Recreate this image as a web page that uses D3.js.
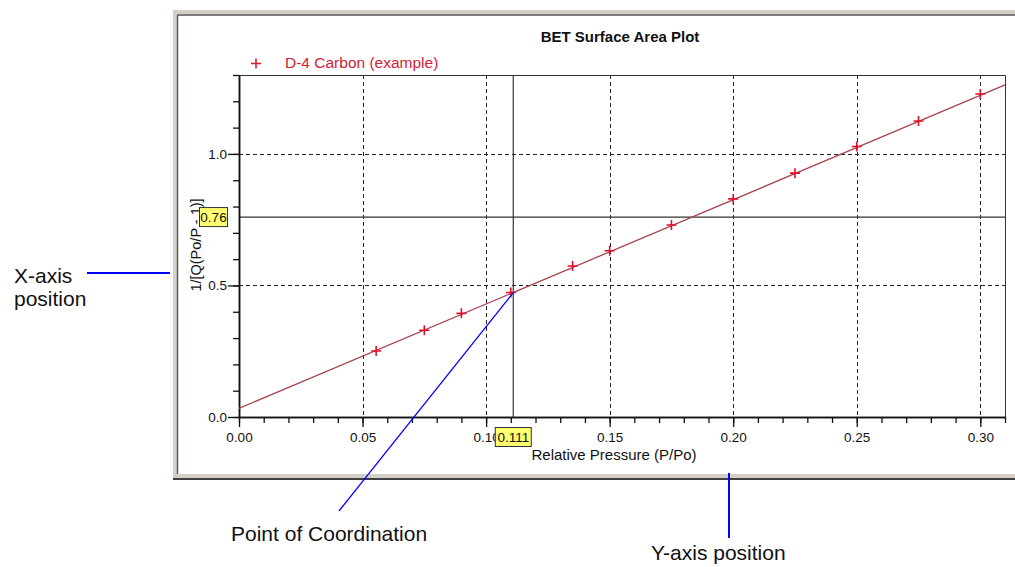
<!DOCTYPE html>
<html>
<head>
<meta charset="utf-8">
<script src="https://cdn.jsdelivr.net/npm/d3@7"></script>
<style>
  body { margin: 0; background: #fff; }
  svg { display: block; font-family: "Liberation Sans", Arial, sans-serif; }
</style>
</head>
<body>
<div id="chart"></div>
<script>
(function () {
  'use strict';

  // BET data
  var relPressure = [0.0555, 0.075, 0.090, 0.110, 0.135, 0.150, 0.175, 0.200, 0.225, 0.250, 0.275, 0.300];
  var betValues   = [0.251, 0.330, 0.394, 0.473, 0.574, 0.632, 0.730, 0.829, 0.927, 1.028, 1.125, 1.228];
  var fitIntercept = 0.033,
      fitSlope = 3.965;
  var xMajorTicks = [0, 0.05, 0.10, 0.15, 0.20, 0.25, 0.30];
  var yMajorTicks = [0, 0.5, 1.0];
  var crossX = 0.111,
      crossY = 0.76;
  var seriesName = 'D-4 Carbon (example)';

  var width = 1015, height = 567;
  var plot = {left: 239, right: 1005, top: 75, bottom: 417};

  var svg = d3.select('#chart').append('svg')
      .attr('width', width)
      .attr('height', height);

  var x = d3.scaleLinear().domain([0, 0.31]).range([plot.left, plot.right]);
  var y = d3.scaleLinear().domain([0, 1.3]).range([plot.bottom, plot.top]);

  // window-like panel frame
  svg.append('rect')
      .attr('x', 173).attr('y', 10).attr('width', 860).attr('height', 470)
      .attr('fill', '#d4d0c8');
  svg.append('rect')
      .attr('x', 178).attr('y', 16).attr('width', 860).attr('height', 458)
      .attr('fill', '#fff');
  svg.append('line')
      .attr('x1', 177.5).attr('x2', 177.5).attr('y1', 15).attr('y2', 474)
      .attr('stroke', '#606060').attr('stroke-width', 1.5);
  svg.append('line')
      .attr('x1', 177).attr('x2', 1015).attr('y1', 15).attr('y2', 15)
      .attr('stroke', '#606060').attr('stroke-width', 1.5);
  svg.append('line')
      .attr('x1', 173).attr('x2', 1015).attr('y1', 479).attr('y2', 479)
      .attr('stroke', '#404040').attr('stroke-width', 2);

  // title
  svg.append('text')
      .attr('x', 620).attr('y', 42)
      .attr('text-anchor', 'middle')
      .attr('font-size', 15).attr('font-weight', 'bold')
      .attr('fill', '#111')
      .text('BET Surface Area Plot');

  // legend
  svg.append('path')
      .attr('d', 'M251,63.5h10M256,58.5v10')
      .attr('stroke', '#e0102a').attr('stroke-width', 1.5);
  svg.append('text')
      .attr('x', 285).attr('y', 68)
      .attr('font-size', 15.5)
      .attr('fill', '#d42035')
      .text(seriesName);

  // grid
  var grid = svg.append('g').attr('stroke', '#222').attr('stroke-width', 1).attr('stroke-dasharray', '4,3');
  grid.selectAll('.vgrid')
      .data(xMajorTicks.filter(function (d) { return d > 0; }))
      .enter().append('line')
      .attr('x1', function (d) { return Math.round(x(d)) + 0.5; })
      .attr('x2', function (d) { return Math.round(x(d)) + 0.5; })
      .attr('y1', plot.top).attr('y2', plot.bottom);
  grid.selectAll('.hgrid')
      .data(yMajorTicks.filter(function (d) { return d > 0; }))
      .enter().append('line')
      .attr('y1', function (d) { return Math.round(y(d)) + 0.5; })
      .attr('y2', function (d) { return Math.round(y(d)) + 0.5; })
      .attr('x1', plot.left).attr('x2', plot.right);

  // plot border top/right
  svg.append('path')
      .attr('d', 'M' + plot.left + ',' + (plot.top + 0.5) + 'H' + (plot.right + 0.5) + 'V' + plot.bottom)
      .attr('fill', 'none').attr('stroke', '#333').attr('stroke-width', 1);

  // crosshair
  svg.append('line')
      .attr('x1', x(crossX)).attr('x2', x(crossX))
      .attr('y1', plot.top).attr('y2', plot.bottom)
      .attr('stroke', '#333').attr('stroke-width', 1.2);
  svg.append('line')
      .attr('x1', plot.left).attr('x2', plot.right)
      .attr('y1', y(crossY)).attr('y2', y(crossY))
      .attr('stroke', '#333').attr('stroke-width', 1.2);

  // axes
  var xMinor = d3.axisBottom(x).tickValues(d3.range(0, 32).map(function (i) { return i / 100; }))
      .tickSize(6).tickSizeOuter(0).tickFormat('');
  var xMajor = d3.axisBottom(x).tickValues(xMajorTicks)
      .tickSize(10).tickSizeOuter(0).tickPadding(5).tickFormat(d3.format('.2f'));
  var yMinor = d3.axisLeft(y).tickValues(d3.range(0, 14).map(function (i) { return i / 10; }))
      .tickSize(6).tickSizeOuter(0).tickFormat('');
  var yMajor = d3.axisLeft(y).tickValues(yMajorTicks)
      .tickSize(11).tickSizeOuter(0).tickPadding(1).tickFormat(d3.format('.1f'));

  [xMinor, xMajor].forEach(function (ax) {
    svg.append('g').attr('class', 'axis')
        .attr('transform', 'translate(0,' + plot.bottom + ')')
        .call(ax);
  });
  [yMinor, yMajor].forEach(function (ax) {
    svg.append('g').attr('class', 'axis')
        .attr('transform', 'translate(' + plot.left + ',0)')
        .call(ax);
  });
  svg.selectAll('.axis path.domain').attr('stroke', '#111').attr('stroke-width', 1.5);
  svg.selectAll('.axis .tick line').attr('stroke', '#111').attr('stroke-width', 1.3);
  svg.selectAll('.axis text')
      .attr('font-size', 13.5)
      .attr('font-family', '"Liberation Sans", Arial, sans-serif')
      .attr('fill', '#111');

  // axis titles
  svg.append('text')
      .attr('x', 614).attr('y', 460)
      .attr('text-anchor', 'middle')
      .attr('font-size', 15).attr('fill', '#111')
      .text('Relative Pressure (P/Po)');
  svg.append('text')
      .attr('transform', 'translate(201,245) rotate(-90)')
      .attr('text-anchor', 'middle')
      .attr('font-size', 14.5).attr('fill', '#111')
      .text('1/[Q(Po/P - 1)]');

  // fit line
  svg.append('line')
      .attr('x1', x(0)).attr('y1', y(fitIntercept))
      .attr('x2', x(0.31)).attr('y2', y(fitIntercept + fitSlope * 0.31))
      .attr('stroke', '#a8444e').attr('stroke-width', 1.3);

  // data markers
  var pts = relPressure.map(function (d, i) { return {x: d, y: betValues[i]}; });
  svg.append('g').selectAll('path.pt')
      .data(pts)
      .enter().append('path')
      .attr('class', 'pt')
      .attr('d', function (d) {
        var px = x(d.x), py = y(d.y);
        return 'M' + (px - 5) + ',' + py + 'h10M' + px + ',' + (py - 5) + 'v10';
      })
      .attr('stroke', '#e0102a').attr('stroke-width', 1.6);

  // yellow readout boxes
  function readout(cx, cy, w, label) {
    svg.append('rect')
        .attr('x', cx - w / 2).attr('y', cy - 9.5).attr('width', w).attr('height', 19)
        .attr('fill', '#ffff70').attr('stroke', '#333').attr('stroke-width', 1);
    svg.append('text')
        .attr('x', cx).attr('y', cy + 5)
        .attr('text-anchor', 'middle')
        .attr('font-size', 13.5).attr('fill', '#111')
        .text(label);
  }
  readout(plot.left - 25.5, y(crossY), 28, d3.format('.2f')(crossY));
  readout(x(crossX), plot.bottom + 20, 36, d3.format('.3f')(crossX));

  // callouts
  var blue = '#0000ff';
  svg.append('line')
      .attr('x1', 87).attr('x2', 170).attr('y1', 273).attr('y2', 273)
      .attr('stroke', blue).attr('stroke-width', 2);
  svg.append('text').attr('x', 14).attr('y', 283).attr('font-size', 21).attr('fill', '#111').text('X-axis');
  svg.append('text').attr('x', 14).attr('y', 306).attr('font-size', 21).attr('fill', '#111').text('position');

  svg.append('line')
      .attr('x1', x(crossX)).attr('y1', y(betValues[3]))
      .attr('x2', 339).attr('y2', 511)
      .attr('stroke', blue).attr('stroke-width', 1.3);
  svg.append('text').attr('x', 231).attr('y', 541).attr('font-size', 21).attr('fill', '#111').text('Point of Coordination');

  svg.append('line')
      .attr('x1', 729).attr('x2', 729).attr('y1', 473).attr('y2', 538)
      .attr('stroke', blue).attr('stroke-width', 2);
  svg.append('text').attr('x', 651).attr('y', 560).attr('font-size', 21).attr('fill', '#111').text('Y-axis position');
}());
</script>
</body>
</html>
